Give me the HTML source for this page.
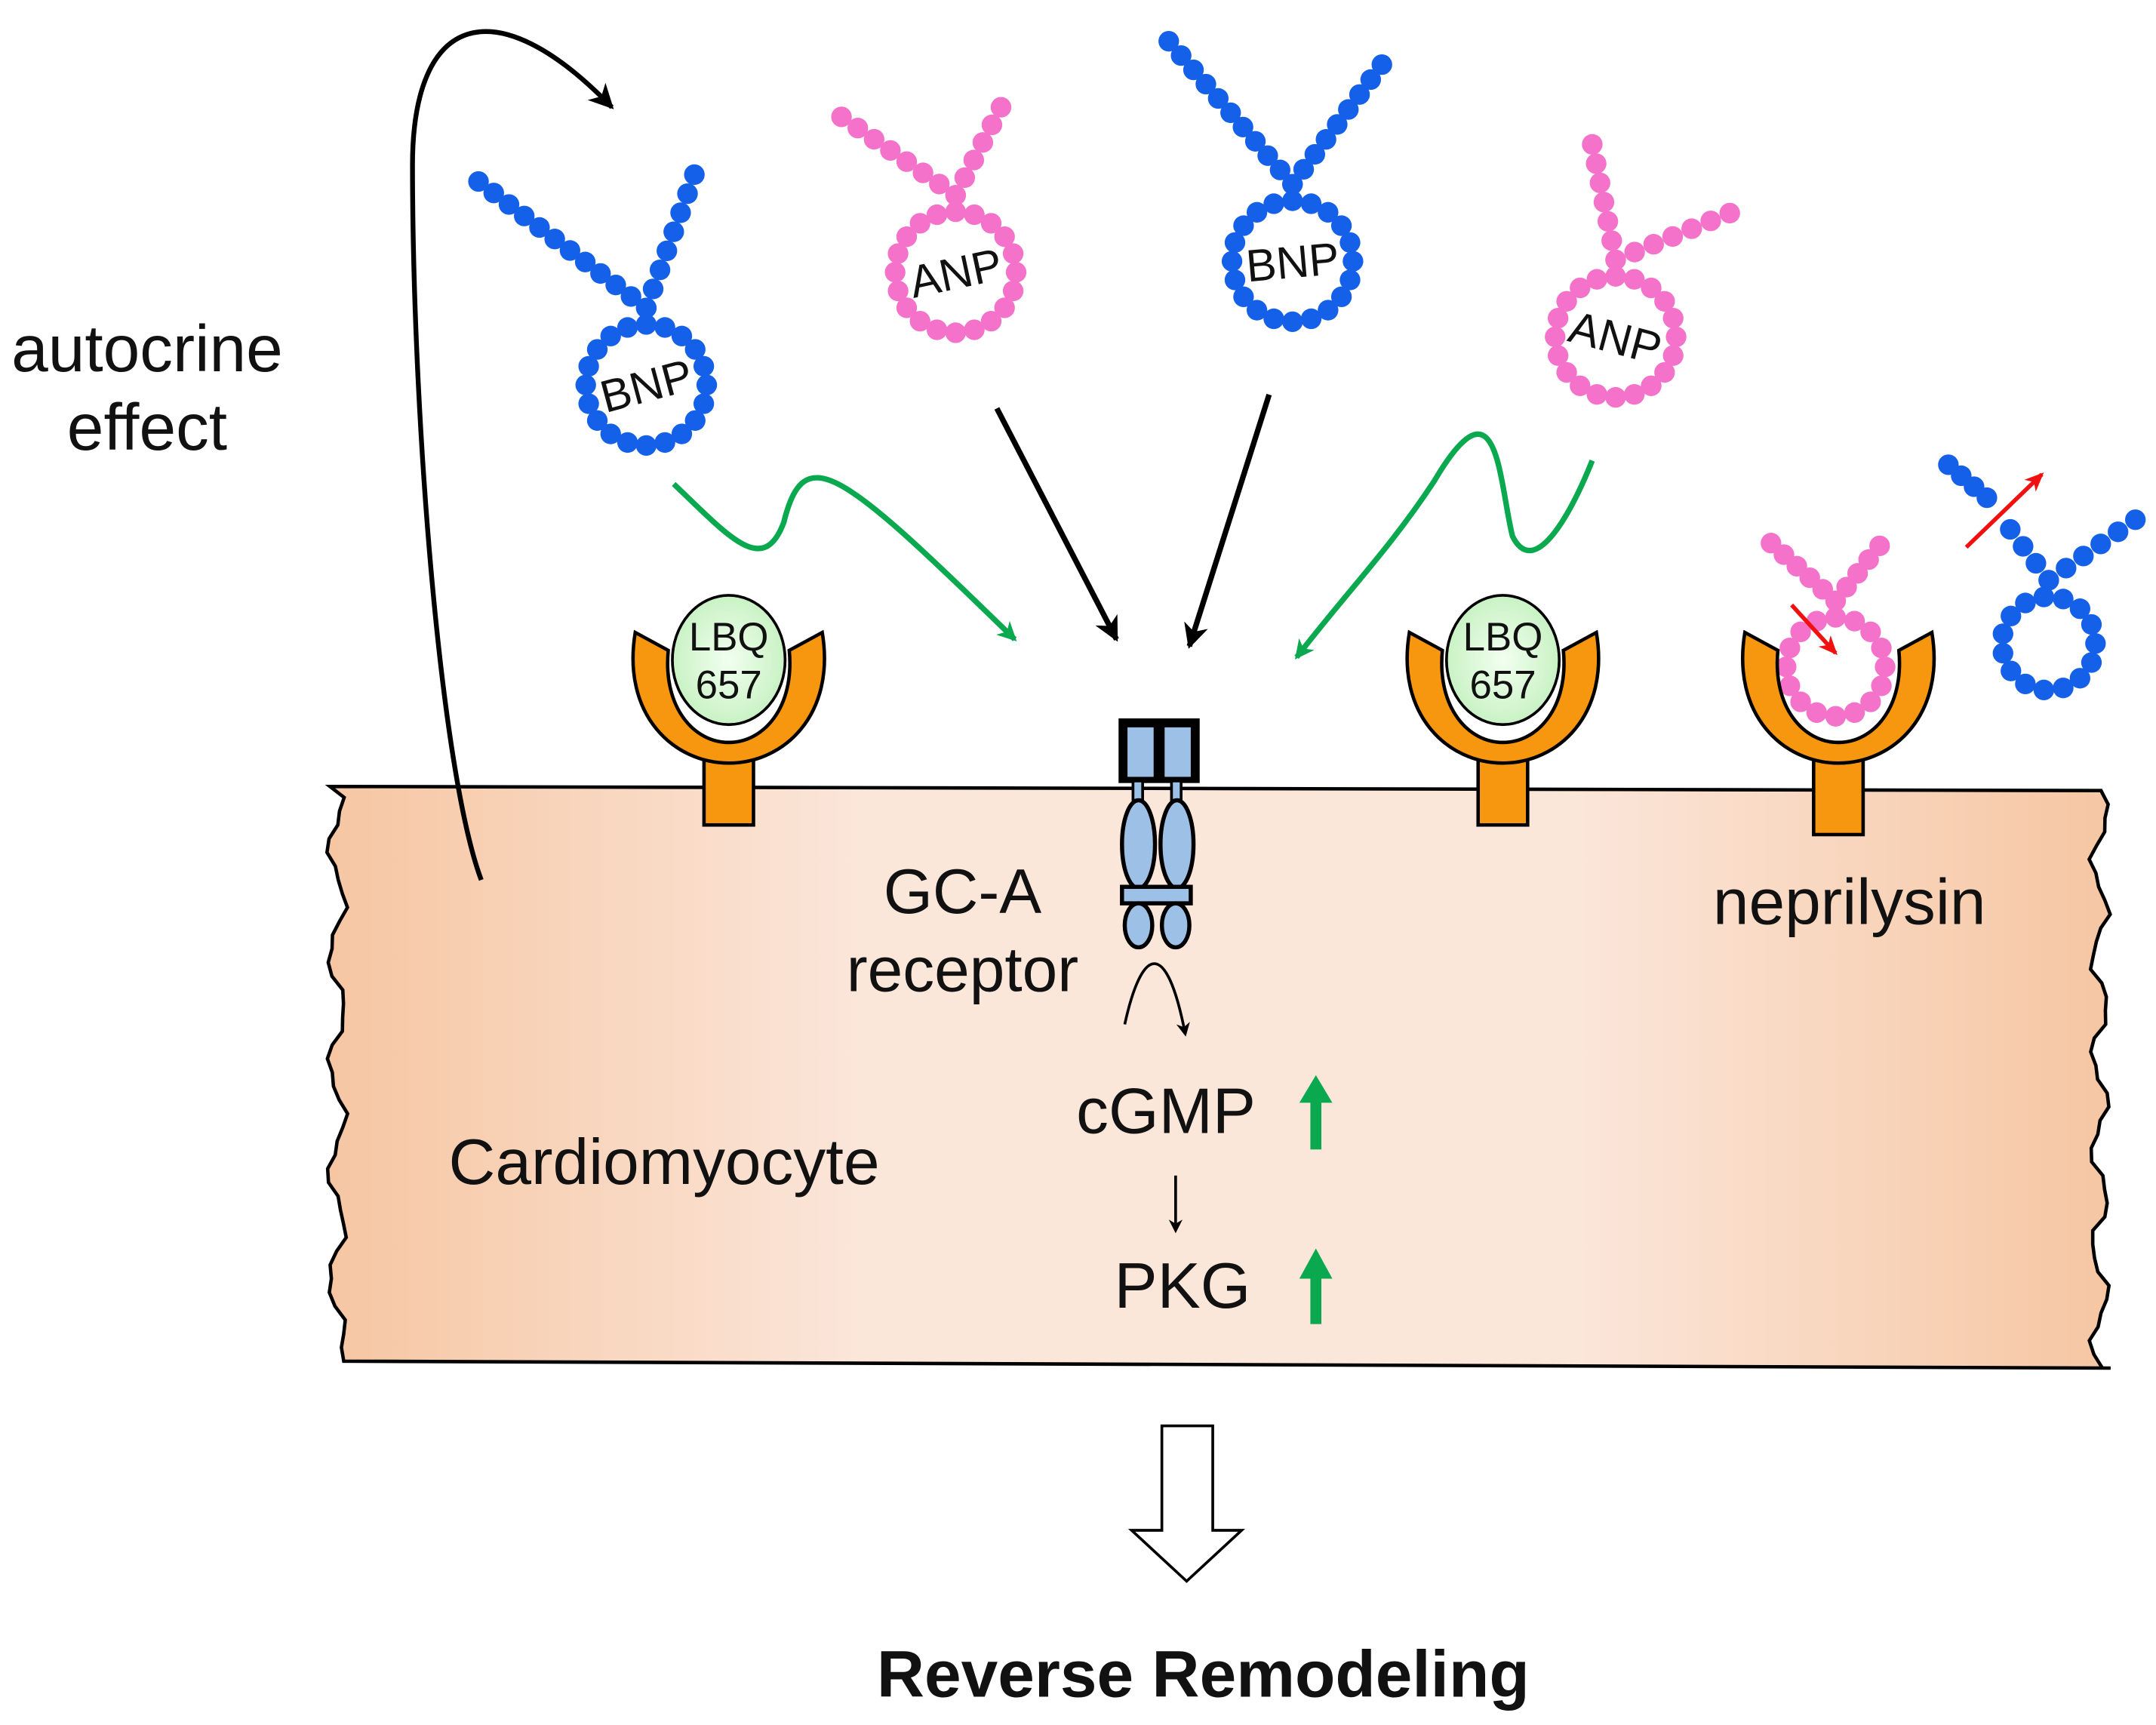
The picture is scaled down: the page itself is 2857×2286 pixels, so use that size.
<!DOCTYPE html>
<html><head><meta charset="utf-8"><style>
html,body{margin:0;padding:0;background:#fff}
svg{display:block}
text{font-family:"Liberation Sans",Arial,sans-serif;fill:#111}
</style></head><body>
<svg id="s" width="2857" height="2286" viewBox="0 0 1568 1254.6" preserveAspectRatio="none" xmlns="http://www.w3.org/2000/svg">
<defs>
<linearGradient id="cell" x1="0" x2="1" y1="0" y2="0">
<stop offset="0" stop-color="#f6c6a2"/><stop offset="0.3" stop-color="#fbe6da"/><stop offset="0.7" stop-color="#fbe6da"/><stop offset="1" stop-color="#f6c6a2"/>
</linearGradient>
<radialGradient id="lbq"><stop offset="0" stop-color="#f2fff0"/><stop offset="1" stop-color="#c9f2c4"/></radialGradient>
<marker id="ab" markerWidth="10" markerHeight="10" refX="8" refY="5" orient="auto" markerUnits="userSpaceOnUse"><path d="M0,0 L10,5 L0,10 L3,5 Z" fill="#000"/></marker>
<marker id="ag" markerWidth="14" markerHeight="14" refX="12" refY="7" orient="auto" markerUnits="userSpaceOnUse"><path d="M0,0 L14,7 L0,14 L4,7 Z" fill="#0aa84f"/></marker>
<marker id="ar" markerWidth="14" markerHeight="14" refX="12" refY="7" orient="auto" markerUnits="userSpaceOnUse"><path d="M0,1 L14,7 L0,13 L4,7 Z" fill="#f01010"/></marker>
<marker id="ab2" markerWidth="18" markerHeight="18" refX="16" refY="9" orient="auto" markerUnits="userSpaceOnUse"><path d="M0,0 L18,9 L0,18 L5,9 Z" fill="#000"/></marker>
</defs>
<path id="cellp" fill="url(#cell)" stroke="#000" stroke-width="2.5" d=""/>
<g id="dots"></g>

<path d="M350,640 C320,560 300,300 300,120 C300,10 360,-10 445,78" fill="none" stroke="#000" stroke-width="3.5" marker-end="url(#ab2)"/>
<text x="107" y="270" font-size="48" text-anchor="middle">autocrine</text>
<text x="107" y="327" font-size="48" text-anchor="middle">effect</text>

<path d="M725,297 L812,465" stroke="#000" stroke-width="4" fill="none" marker-end="url(#ab2)"/>
<path d="M923,287 L865,470" stroke="#000" stroke-width="4" fill="none" marker-end="url(#ab2)"/>
<path d="M490,352 C530,390 555,420 570,380 C585,320 610,340 738,465" stroke="#0aa84f" stroke-width="4" fill="none" marker-end="url(#ag)"/>
<path d="M1158,335 C1140,380 1115,420 1100,390 C1090,350 1090,270 1043,350 C1010,400 980,430 943,478" stroke="#0aa84f" stroke-width="4" fill="none" marker-end="url(#ag)"/>

<g id="recs"></g>

<g stroke="#000" stroke-width="3">
<rect x="815" y="524" width="56" height="44" fill="#000"/>
<rect x="820" y="529" width="19" height="36" fill="#9dc0e6" stroke="none"/>
<rect x="847" y="529" width="19" height="36" fill="#9dc0e6" stroke="none"/>
<rect x="824" y="568" width="7" height="14" fill="#9dc0e6" stroke-width="2"/>
<rect x="852" y="568" width="7" height="14" fill="#9dc0e6" stroke-width="2"/>
<ellipse cx="828" cy="614" rx="12" ry="32" fill="#9dc0e6"/>
<ellipse cx="856" cy="614" rx="12" ry="32" fill="#9dc0e6"/>
<rect x="816" y="645" width="50" height="12" fill="#9dc0e6"/>
<ellipse cx="828" cy="673" rx="10" ry="16" fill="#9dc0e6"/>
<ellipse cx="855" cy="673" rx="10" ry="16" fill="#9dc0e6"/>
</g>
<path d="M818,745 C830,690 848,680 862,752" fill="none" stroke="#000" stroke-width="2" marker-end="url(#ab)"/>
<path d="M855,855 L855,895" stroke="#000" stroke-width="2" marker-end="url(#ab)"/>

<text x="700" y="664" font-size="46" text-anchor="middle">GC-A</text>
<text x="700" y="721" font-size="46" text-anchor="middle">receptor</text>
<text x="483" y="861" font-size="47" text-anchor="middle">Cardiomyocyte</text>
<text x="848" y="824" font-size="47" text-anchor="middle">cGMP</text>
<text x="860" y="951" font-size="47" text-anchor="middle">PKG</text>
<text x="1345" y="672" font-size="47" text-anchor="middle">neprilysin</text>

<g fill="#0aa84f">
<rect x="953" y="800" width="8" height="36"/><path d="M945,802 L957,782 L969,802 Z"/>
<rect x="953" y="928" width="8" height="35"/><path d="M945,930 L957,908 L969,930 Z"/>
</g>

<path d="M1430,398 L1485,345" stroke="#f01010" stroke-width="3" marker-end="url(#ar)"/>
<path d="M1303,440 L1335,475" stroke="#f01010" stroke-width="3" marker-end="url(#ar)"/>

<path d="M845,1037 L882,1037 L882,1113 L903,1113 L863,1150 L823,1113 L845,1113 Z" fill="#fff" stroke="#000" stroke-width="2"/>
<text x="875" y="1234" font-size="48" font-weight="bold" text-anchor="middle">Reverse Remodeling</text>
</svg>
<script>
var NS="http://www.w3.org/2000/svg";
function el(t,a,p){var e=document.createElementNS(NS,t);for(var k in a)e.setAttribute(k,a[k]);(p||document.getElementById('s')).appendChild(e);return e;}
(function(){
 var d="M240,572 L1528,575";
 var y=575,i=0;
 while(y<990){y+=10;i++;var x=1527+6*Math.sin(i*0.9)+2*Math.sin(i*2.3);d+=" L"+x.toFixed(1)+","+y;}
 d+=" L1535,995 L250,990";
 y=990;i=0;
 while(y>580){y-=10;i++;var x=245+6*Math.sin(i*0.8)+2*Math.cos(i*2.1);d+=" L"+x.toFixed(1)+","+y;}
 d+=" Z";
 document.getElementById('cellp').setAttribute('d',d);
})();
var dg=document.getElementById('dots');
function dot(x,y,c){el('circle',{cx:x,cy:y,r:7.5,fill:c},dg);}
function line(x1,y1,x2,y2,c){var L=Math.hypot(x2-x1,y2-y1),n=Math.round(L/14);for(var i=0;i<=n;i++)dot(x1+(x2-x1)*i/n,y1+(y2-y1)*i/n,c);}
function ring(cx,cy,r,c){var n=Math.round(2*Math.PI*r/14);for(var i=0;i<n;i++){var a=i/n*2*Math.PI;dot(cx+r*Math.cos(a),cy+r*Math.sin(a),c);}}
function pep(cx,cy,r,a1,a2,c,label,rot){
 ring(cx,cy,r,c);
 var j=[cx,cy-r-12];
 line(j[0],j[1],a1[0],a1[1],c);line(j[0],j[1],a2[0],a2[1],c);
 if(label){var t=el('text',{x:cx,y:cy+12,'font-size':33,'text-anchor':'middle',transform:'rotate('+rot+' '+cx+' '+cy+')'});t.textContent=label;}
}
var B="#1560e8",P="#f472c9";
pep(470,280,44,[348,132],[505,127],B,"BNP",-15);
pep(695,198,44,[612,85],[728,78],P,"ANP",-12);
pep(940,190,44,[850,30],[1005,47],B,"BNP",-5);
pep(1175,245,44,[1158,105],[1258,155],P,"ANP",15);
pep(1335,485,36,[1288,395],[1367,397],P,null,0);
line(1417,338,1445,362,B);
pep(1490,468,34,[1462,385],[1553,378],B,null,0);
var rg=document.getElementById('recs');
function rec(cx,withLbq){
 el('rect',{x:cx-18,y:540,width:36,height:(cx>1300?67:60),fill:"#f7960f",stroke:"#000","stroke-width":2.5},rg);
 var d="M"+(cx-68)+",460 C"+(cx-78)+",520 "+(cx-40)+",555 "+cx+",555 C"+(cx+40)+",555 "+(cx+78)+",520 "+(cx+68)+",460 L"+(cx+44)+",473 C"+(cx+48)+",515 "+(cx+25)+",540 "+cx+",540 C"+(cx-25)+",540 "+(cx-48)+",515 "+(cx-44)+",473 Z";
 el('path',{d:d,fill:"#f7960f",stroke:"#000","stroke-width":2.5},rg);
 if(withLbq){
  el('ellipse',{cx:cx,cy:480,rx:41,ry:47,fill:"url(#lbq)",stroke:"#000","stroke-width":2},rg);
  var t=el('text',{x:cx,y:473,'font-size':29,'text-anchor':'middle'},rg);t.textContent="LBQ";
  t=el('text',{x:cx,y:508,'font-size':29,'text-anchor':'middle'},rg);t.textContent="657";
 }
}
rec(530,true);rec(1093,true);rec(1337,false);
</script>
</body></html>
